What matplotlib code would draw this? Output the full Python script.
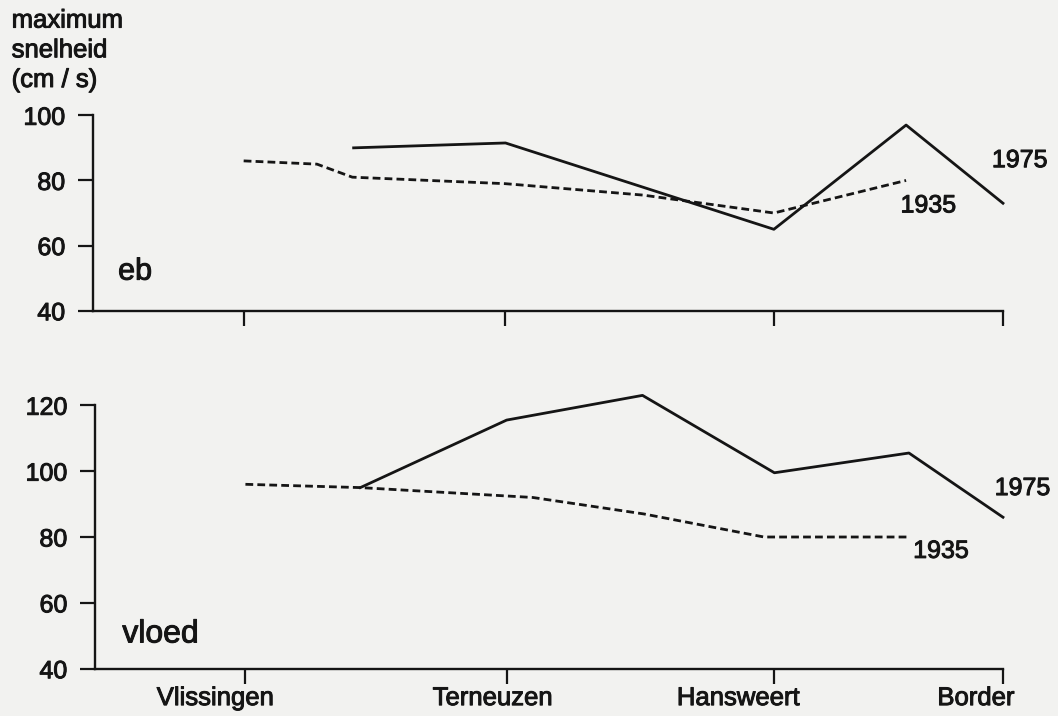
import matplotlib.pyplot as plt
import matplotlib.patheffects as pe
from matplotlib.transforms import ScaledTranslation

stations = ['Vlissingen', 'Terneuzen', 'Hansweert', 'Border']
station_km = [0, 20, 40.5, 58]

# eb (ebb) max velocity
eb_1975_km = [8.4, 20, 40.5, 50.6, 58]
eb_1975 = [90, 91.5, 65, 97, 73]
eb_1935_km = [0, 5.6, 8.3, 20, 30.5, 40.5, 50.6]
eb_1935 = [86, 85, 81, 79, 75.5, 70, 80]

# vloed (flood) max velocity
vloed_1975_km = [8.8, 20, 30.4, 40.5, 50.8, 58]
vloed_1975 = [95, 115.5, 123, 99.5, 105.5, 86]
vloed_1935_km = [0, 8.8, 22, 30.5, 39.7, 50.7]
vloed_1935 = [96, 95, 92, 87, 80, 80]

plt.rcParams['font.family'] = ['Liberation Sans', 'DejaVu Sans']
ink = '#151515'
paper = '#f2f2f0'
thick = [pe.withStroke(linewidth=0.7, foreground=ink)]

fig = plt.figure(figsize=(10.58, 7.16), dpi=100, facecolor=paper)
ax1 = fig.add_axes([0.088, 0.566, 0.860, 0.273])
ax2 = fig.add_axes([0.090, 0.066, 0.858, 0.368])

def style(ax, yticks, ylim):
    ax.set_facecolor(paper)
    ax.set_xlim(-11.5, 58)
    ax.set_ylim(*ylim)
    ax.set_yticks(yticks)
    ax.set_xticks(station_km)
    for s in ['top', 'right']:
        ax.spines[s].set_visible(False)
    for s in ['left', 'bottom']:
        ax.spines[s].set_linewidth(1.7)
        ax.spines[s].set_color(ink)
    ax.tick_params(axis='y', direction='out', length=11, width=1.6, labelsize=18,
                   colors=ink, pad=9)
    ax.tick_params(axis='x', direction='out', length=10.5, width=1.6, labelsize=18.5,
                   colors=ink, pad=2)

style(ax1, [40, 60, 80, 100], (40, 100))
style(ax2, [40, 60, 80, 100, 120], (40, 120))
ax1.set_xticklabels([])
ax2.set_xticklabels(stations)
label_shift = [-30, -14, -36, -27]
for lab, dx in zip(ax2.get_xticklabels(), label_shift):
    lab.set_transform(lab.get_transform() + ScaledTranslation(dx / 100, 0, fig.dpi_scale_trans))
for ax in (ax1, ax2):
    for lab in ax.get_xticklabels() + ax.get_yticklabels():
        lab.set_path_effects(thick)

ax1.plot(eb_1975_km, eb_1975, color=ink, lw=2.0, clip_on=False)
ax1.plot(eb_1935_km, eb_1935, color=ink, lw=2.0, dashes=(2.8, 1.5), clip_on=False)
ax2.plot(vloed_1975_km, vloed_1975, color=ink, lw=2.0, clip_on=False)
ax2.plot(vloed_1935_km, vloed_1935, color=ink, lw=2.0, dashes=(2.8, 1.5), clip_on=False)

# year labels next to line ends
ax1.annotate('1975', (eb_1975_km[-1], eb_1975[-1]), xytext=(12, 31), textcoords='offset points',
             ha='center', va='center', fontsize=18, color=ink, annotation_clip=False,
             path_effects=thick)
ax1.annotate('1935', (eb_1935_km[-1], eb_1935[-1]), xytext=(16, -18), textcoords='offset points',
             ha='center', va='center', fontsize=18, color=ink, annotation_clip=False,
             path_effects=thick)
ax2.annotate('1975', (vloed_1975_km[-1], vloed_1975[-1]), xytext=(14, 21), textcoords='offset points',
             ha='center', va='center', fontsize=18, color=ink, annotation_clip=False,
             path_effects=thick)
ax2.annotate('1935', (vloed_1935_km[-1], vloed_1935[-1]), xytext=(24, -10), textcoords='offset points',
             ha='center', va='center', fontsize=18, color=ink, annotation_clip=False,
             path_effects=thick)

ax1.text(0.046, 0.20, 'eb', transform=ax1.transAxes, ha='center', va='center',
         fontsize=22, color=ink, path_effects=thick)
ax2.text(0.072, 0.13, 'vloed', transform=ax2.transAxes, ha='center', va='center',
         fontsize=23, color=ink, path_effects=thick)

fig.text(0.011, 0.988, 'maximum\nsnelheid\n(cm / s)', ha='left', va='top',
         fontsize=18.5, color=ink, linespacing=1.3, path_effects=thick)

fig.savefig('out.png', dpi=100, facecolor=paper)
